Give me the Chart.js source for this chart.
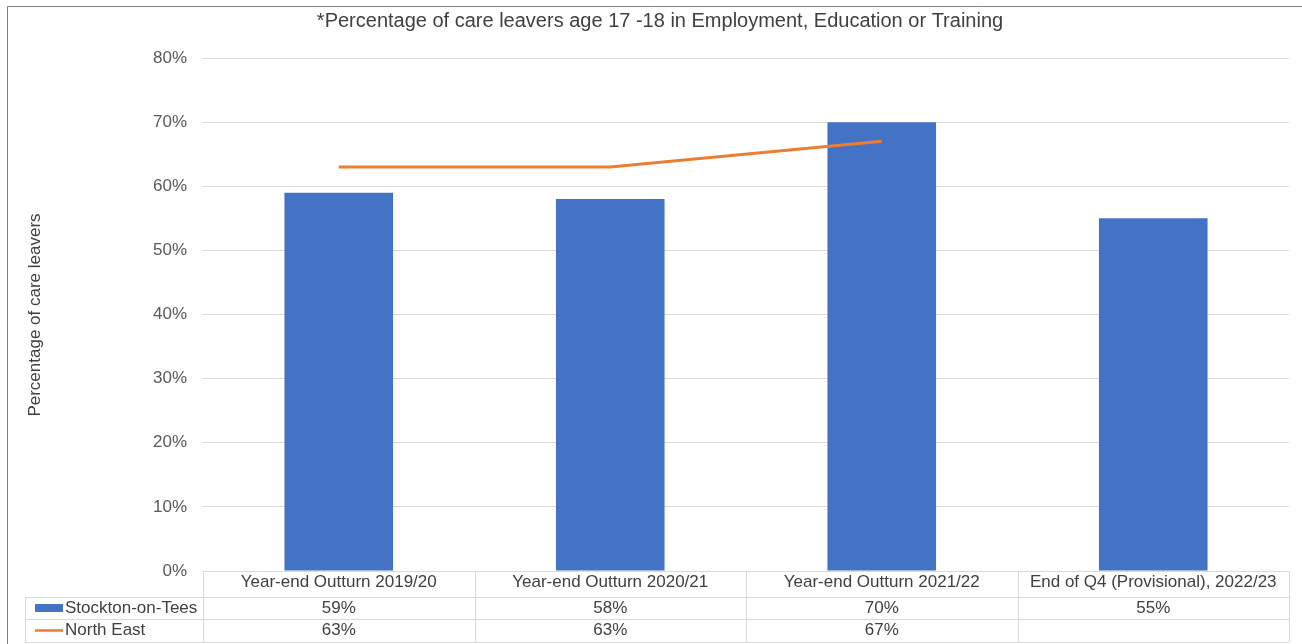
<!DOCTYPE html>
<html>
<head>
<meta charset="utf-8">
<script src="https://cdn.jsdelivr.net/npm/chart.js@4.4.1/dist/chart.umd.min.js"></script>
<style>
html,body{margin:0;padding:0;background:#fff;}
#wrap{position:absolute;left:0;top:0;width:1302px;height:644px;}
</style>
</head>
<body>
<div id="wrap"><canvas id="c" width="1302" height="644"></canvas></div>
<script>
const categories = ["Year-end Outturn 2019/20","Year-end Outturn 2020/21","Year-end Outturn 2021/22","End of Q4 (Provisional), 2022/23"];
const stocktonValues = [59, 58, 70, 55];
const northEastValues = [63, 63, 67, null];
const seriesNames = ["Stockton-on-Tees", "North East"];
const yTicks = [0, 10, 20, 30, 40, 50, 60, 70, 80];
const chartTitle = "*Percentage of care leavers age 17 -18 in Employment, Education or Training";
const yAxisTitle = "Percentage of care leavers";

const BLUE = "#4472C4", ORANGE = "#ED7D31", GRID = "#d9d9d9", TXT = "#404040", TICK = "#595959";
const FONT = "'Liberation Sans', Arial, sans-serif";

const decorPlugin = {
  id: "decor",
  afterDraw(chart) {
    const ctx = chart.ctx;
    const xs = chart.scales.x;
    const area = chart.chartArea;
    ctx.save();
    // outer frame
    ctx.strokeStyle = "#7f7f7f"; ctx.lineWidth = 1;
    ctx.beginPath(); ctx.moveTo(7.5, 644); ctx.lineTo(7.5, 6.5); ctx.lineTo(1302, 6.5); ctx.stroke();
    // title
    ctx.fillStyle = TXT; ctx.font = "20px " + FONT; ctx.textAlign = "center"; ctx.textBaseline = "middle";
    ctx.fillText(chartTitle, 660, 21);
    // y axis title
    ctx.save(); ctx.translate(35, 315); ctx.rotate(-Math.PI/2);
    ctx.font = "17px " + FONT; ctx.fillStyle = TXT; ctx.fillText(yAxisTitle, 0, 0); ctx.restore();
    // data table
    const n = categories.length;
    const step = (area.right - area.left) / n;
    const left = area.left, right = area.right;
    const r0 = area.bottom, r1 = r0 + 26, r2 = r1 + 22, r3 = r2 + 23;
    const tl = 25;
    ctx.strokeStyle = GRID; ctx.lineWidth = 1;
    ctx.beginPath();
    ctx.moveTo(left, r0 + 0.5); ctx.lineTo(right, r0 + 0.5);
    [r1, r2, r3].forEach(y => { ctx.moveTo(tl, y + 0.5); ctx.lineTo(right, y + 0.5); });
    ctx.moveTo(tl + 0.5, r1); ctx.lineTo(tl + 0.5, r3);
    for (let i = 0; i <= n; i++) {
      const x = Math.round(left + i * step) + 0.5;
      ctx.moveTo(x, r0); ctx.lineTo(x, r3);
    }
    ctx.stroke();
    ctx.font = "17px " + FONT; ctx.fillStyle = TXT; ctx.textAlign = "center"; ctx.textBaseline = "middle";
    const fmt = v => (v === null || v === undefined) ? "" : v + "%";
    const y0 = r0 + 11, y1 = r1 + 11, y2 = r2 + 11;
    categories.forEach((c, i) => {
      const cx = xs.getPixelForValue(i);
      ctx.fillText(c, cx, y0);
      ctx.fillText(fmt(stocktonValues[i]), cx, y1);
      ctx.fillText(fmt(northEastValues[i]), cx, y2);
    });
    // legend keys
    ctx.textAlign = "left";
    ctx.fillStyle = BLUE; ctx.fillRect(35, y1 - 4, 28, 8);
    ctx.strokeStyle = ORANGE; ctx.lineWidth = 2.5;
    ctx.beginPath(); ctx.moveTo(35, y2 + 0.5); ctx.lineTo(63, y2 + 0.5); ctx.stroke();
    ctx.fillStyle = TXT;
    ctx.fillText(seriesNames[0], 65, y1);
    ctx.fillText(seriesNames[1], 65, y2);
    ctx.restore();
  }
};

new Chart(document.getElementById("c"), {
  type: "bar",
  data: {
    labels: categories,
    datasets: [
      { type: "line", label: seriesNames[1], data: northEastValues, borderColor: ORANGE, backgroundColor: ORANGE,
        borderWidth: 3, pointRadius: 0, pointHoverRadius: 0, tension: 0, spanGaps: false, order: 0 },
      { type: "bar", label: seriesNames[0], data: stocktonValues, backgroundColor: BLUE, borderWidth: 0,
        barPercentage: 0.4, categoryPercentage: 1.0, order: 1 }
    ]
  },
  options: {
    responsive: false,
    animation: false,
    devicePixelRatio: 1,
    layout: { padding: { top: 58, right: 13, bottom: 73, left: 0 } },
    plugins: { legend: { display: false }, title: { display: false }, tooltip: { enabled: false } },
    scales: {
      x: {
        offset: true,
        grid: { display: false, drawTicks: false },
        border: { display: false },
        ticks: { display: false }
      },
      y: {
        min: 0, max: 80,
        afterFit: s => { s.width = 203; },
        afterBuildTicks: s => { s.ticks = yTicks.map(v => ({ value: v })); },
        grid: { color: GRID, drawTicks: false },
        border: { display: false },
        ticks: { padding: 16, color: TICK, font: { family: FONT, size: 17 }, callback: v => v + "%" }
      }
    }
  },
  plugins: [decorPlugin]
});
</script>
</body>
</html>
